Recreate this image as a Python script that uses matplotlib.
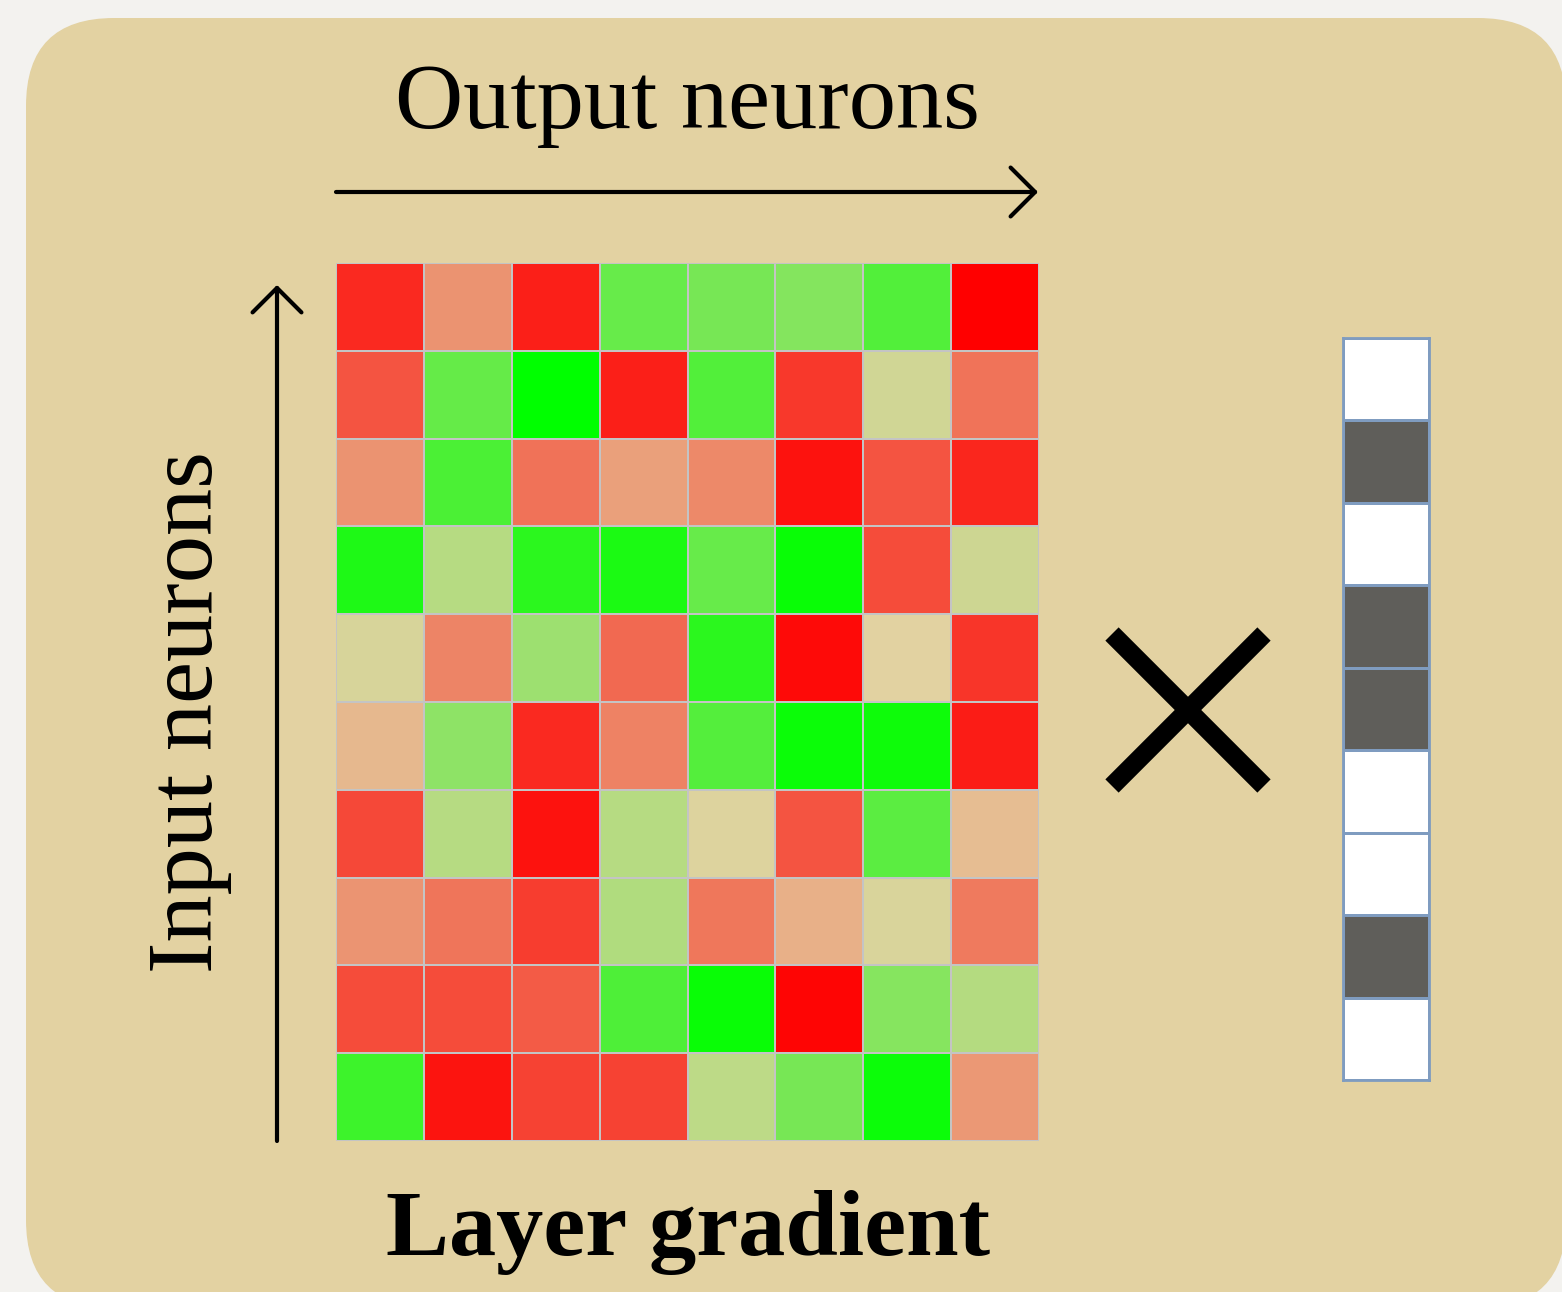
import numpy as np
import matplotlib
matplotlib.use("Agg")
import matplotlib.pyplot as plt
from matplotlib.colors import LinearSegmentedColormap, ListedColormap
from matplotlib.patches import FancyBboxPatch

W, H = 1562, 1292
panel_color = "#e3d2a2"

# layer gradient, 10 input neurons (rows, top to bottom) x 8 output neurons
# negative = red, positive = green
grad_row0 = [-0.80, -0.30, -0.85, 0.54, 0.47, 0.42, 0.64, -1.00]
grad_row1 = [-0.60, 0.55, 1.00, -0.85, 0.64, -0.73, 0.08, -0.45]
grad_row2 = [-0.30, 0.67, -0.46, -0.24, -0.35, -0.91, -0.60, -0.82]
grad_row3 = [0.86, 0.20, 0.81, 0.88, 0.54, 0.96, -0.64, 0.10]
grad_row4 = [0.05, -0.37, 0.31, -0.50, 0.81, -0.95, 0.00, -0.75]
grad_row5 = [-0.12, 0.37, -0.80, -0.38, 0.63, 0.95, 0.93, -0.86]
grad_row6 = [-0.65, 0.20, -0.91, 0.20, 0.03, -0.60, 0.60, -0.10]
grad_row7 = [-0.29, -0.44, -0.71, 0.22, -0.43, -0.16, 0.04, -0.42]
grad_row8 = [-0.64, -0.64, -0.57, 0.65, 0.96, -0.97, 0.41, 0.21]
grad_row9 = [0.73, -0.90, -0.68, -0.68, 0.17, 0.47, 0.94, -0.28]

# mask vector (1 = kept / white, 0 = dropped / dark)
mask = [1, 0, 1, 0, 0, 1, 1, 0, 1]

title_top = "Output neurons"
title_left = "Input neurons"
title_bottom = "Layer gradient"

grad = np.array([grad_row0, grad_row1, grad_row2, grad_row3, grad_row4,
                 grad_row5, grad_row6, grad_row7, grad_row8, grad_row9])

fig = plt.figure(figsize=(W / 100, H / 100), dpi=100, facecolor="#f3f2ef")

# background axes in pixel coordinates
ax = fig.add_axes([0, 0, 1, 1])
ax.set_xlim(0, W)
ax.set_ylim(H, 0)
ax.axis("off")
ax.add_patch(FancyBboxPatch((26 + 88, 18 + 88), 1540 - 176, 1290 - 176,
                            boxstyle="round,pad=88", fc=panel_color, ec="none"))

font = "Liberation Serif"
ax.text(687, 128, title_top, fontsize=68, family=font, ha="center", va="baseline")
ax.text(688, 1255, title_bottom, fontsize=68, family=font, weight="bold",
        ha="center", va="baseline")
ax.text(212, 712, title_left, fontsize=68, family=font, rotation=90,
        rotation_mode="anchor", ha="center", va="baseline")

arrow = dict(arrowstyle="->,head_length=0.55,head_width=0.55", lw=3, color="black",
             shrinkA=0, shrinkB=0, mutation_scale=32)
ax.annotate("", xy=(1038, 192), xytext=(336, 192), arrowprops=arrow)
ax.annotate("", xy=(277, 285), xytext=(277, 1141), arrowprops=arrow)

# multiplication sign
ax.plot([1112, 1264], [634, 786], color="black", lw=13.5, solid_capstyle="butt")
ax.plot([1112, 1264], [786, 634], color="black", lw=13.5, solid_capstyle="butt")

# heatmap of the gradient
cmap = LinearSegmentedColormap.from_list("rg", ["#ff0000", panel_color, "#00ff00"])
hax = fig.add_axes([336 / W, 1 - 1141 / H, 703 / W, 878 / H])
hax.pcolormesh(grad, cmap=cmap, vmin=-1, vmax=1, edgecolors="#c4c4c4", linewidth=1.2)
hax.invert_yaxis()
hax.axis("off")

# mask vector
max_ = fig.add_axes([1343 / W, 1 - 1080 / H, 86 / W, 742 / H])
max_.pcolormesh(np.array(mask).reshape(-1, 1), cmap=ListedColormap(["#5f5e5a", "white"]),
                vmin=0, vmax=1, edgecolors="#7f9cc0", linewidth=2)
max_.invert_yaxis()
max_.set_xticks([])
max_.set_yticks([])
for s in max_.spines.values():
    s.set_color("#7f9cc0")
    s.set_linewidth(2)

fig.savefig("out.png", dpi=100, facecolor=fig.get_facecolor())
